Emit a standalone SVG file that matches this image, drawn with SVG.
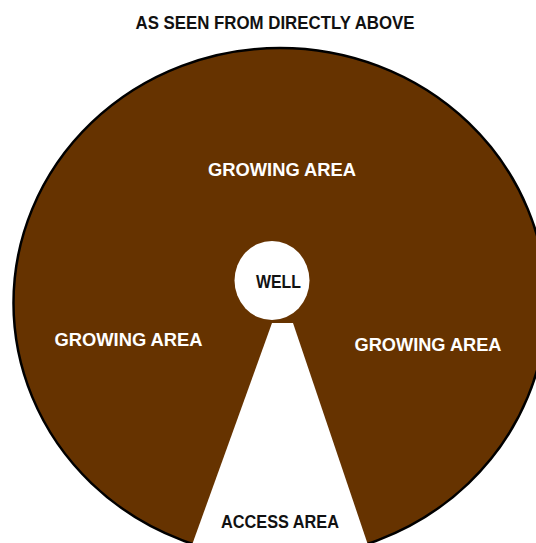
<svg xmlns="http://www.w3.org/2000/svg" width="536" height="543" viewBox="0 0 536 543">
  <style>
    .lbl { font-family: "Liberation Sans", Arial, sans-serif; font-weight: bold; text-anchor: middle; }
    .dark { fill: #111111; }
    .light { fill: #ffffff; }
    .soil { fill: #663300; stroke: #000000; stroke-width: 2.5; }
    .open { fill: #ffffff; stroke: none; }
  </style>
  <rect x="0" y="0" width="536" height="543" fill="#ffffff"/>
  <g id="title">
    <text class="lbl dark" x="275" y="29" font-size="19" textLength="279" lengthAdjust="spacingAndGlyphs">AS SEEN FROM DIRECTLY ABOVE</text>
  </g>
  <g id="plot">
    <ellipse class="soil" cx="280" cy="303" rx="266.5" ry="255"/>
  </g>
  <g id="access-area">
    <polygon class="open" points="272,323 293,323 368,545 192,545"/>
    <text class="lbl dark" x="280" y="528" font-size="18.5" textLength="118" lengthAdjust="spacingAndGlyphs">ACCESS AREA</text>
  </g>
  <g id="well">
    <ellipse class="open" cx="272" cy="280.5" rx="37.5" ry="39.5"/>
    <text class="lbl dark" x="278.5" y="288" font-size="18" textLength="45" lengthAdjust="spacingAndGlyphs">WELL</text>
  </g>
  <g id="growing-area-top">
    <text class="lbl light" x="282" y="176" font-size="18.5" textLength="148" lengthAdjust="spacingAndGlyphs">GROWING AREA</text>
  </g>
  <g id="growing-area-left">
    <text class="lbl light" x="128.5" y="346" font-size="18.5" textLength="148" lengthAdjust="spacingAndGlyphs">GROWING AREA</text>
  </g>
  <g id="growing-area-right">
    <text class="lbl light" x="428" y="351" font-size="18.5" textLength="147" lengthAdjust="spacingAndGlyphs">GROWING AREA</text>
  </g>
</svg>
